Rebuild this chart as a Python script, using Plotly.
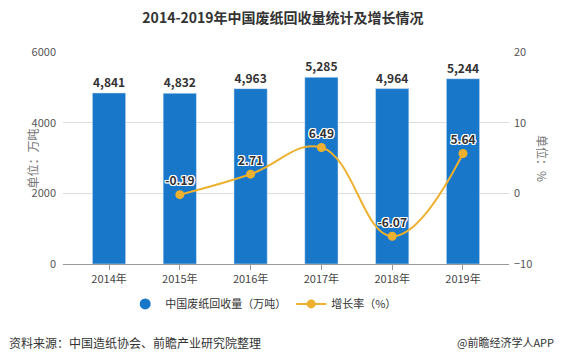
import plotly.graph_objects as go

years = ["2014年", "2015年", "2016年", "2017年", "2018年", "2019年"]
volume = [4841, 4832, 4963, 5285, 4964, 5244]
growth = [None, -0.19, 2.71, 6.49, -6.07, 5.64]
volume_labels = [f"{v:,}" for v in volume]
growth_labels = ["" if g is None else f"{g:.2f}" for g in growth]

BLUE = "#1877C9"
GOLD = "#EDB12F"
FONT = "Noto Sans CJK SC"

fig = go.Figure()
fig.add_trace(go.Bar(
    x=years, y=volume, width=0.47, marker_color=BLUE,
    text=volume_labels, textposition="outside", cliponaxis=False,
    textfont=dict(size=12, color="#333", family=FONT, weight="bold"),
    showlegend=False, name="中国废纸回收量（万吨）",
))
fig.add_trace(go.Scatter(
    x=years[1:], y=growth[1:], yaxis="y2", mode="lines+markers+text",
    line=dict(color=GOLD, width=2, shape="spline", smoothing=1.2),
    marker=dict(color=GOLD, size=9),
    text=growth_labels[1:], textposition="top center", cliponaxis=False,
    textfont=dict(size=12, color="#333", family=FONT, weight="bold",
                  shadow="1px 1px 0 #fff, -1px -1px 0 #fff, 1px -1px 0 #fff, -1px 1px 0 #fff, 0 1px 0 #fff, 0 -1px 0 #fff, 1px 0 0 #fff, -1px 0 0 #fff"),
    showlegend=True, name="增长率（%）", legendrank=2,
))
# legend entry for bars as a circle
fig.add_trace(go.Scatter(
    x=[None], y=[None], mode="markers", marker=dict(color=BLUE, size=11),
    name="中国废纸回收量（万吨）", showlegend=True, legendrank=1,
))

fig.update_layout(
    width=566, height=363,
    margin=dict(l=63, r=57, t=52, b=99),
    paper_bgcolor="white", plot_bgcolor="white",
    font=dict(family=FONT, color="#555", size=11),
    title=dict(text="<b>2014-2019年中国废纸回收量统计及增长情况</b>", x=0.5, xanchor="center",
               y=0.95, yanchor="middle", font=dict(size=14, color="#333", family=FONT)),
    xaxis=dict(type="category", range=[-0.65, 5.65], showgrid=False,
               showline=True, linecolor="#999", linewidth=1,
               ticks="outside", ticklen=5, tickcolor="#999",
               tickfont=dict(size=11, color="#444")),
    yaxis=dict(range=[0, 6000], tickvals=[0, 2000, 4000, 6000], showgrid=True,
               gridcolor="#ddd", zeroline=False, tickfont=dict(size=11, color="#555"),
               ticks="", ticklabelstandoff=6),
    yaxis2=dict(overlaying="y", side="right", range=[-10, 20], tickvals=[-10, 0, 10, 20],
                showgrid=False, zeroline=False, tickfont=dict(size=11, color="#555"),
                ticklabelstandoff=4),
    bargap=0.5,
    legend=dict(orientation="h", x=0.45, xanchor="center", y=-0.12, yanchor="top",
                font=dict(size=11, color="#333"), itemwidth=30, traceorder="normal"),
    annotations=[
        dict(text="单位：万吨", xref="paper", yref="paper", x=-0.092, y=0.5,
             textangle=-90, showarrow=False, font=dict(size=12, color="#777")),
        dict(text="单位：%", xref="paper", yref="paper", x=1.10, y=0.5,
             textangle=90, showarrow=False, font=dict(size=12, color="#777")),
        dict(text="资料来源：中国造纸协会、前瞻产业研究院整理", xref="paper", yref="paper",
             x=-0.125, y=-0.37, xanchor="left", yanchor="middle", showarrow=False,
             font=dict(size=12, color="#333")),
        dict(text="@前瞻经济学人APP", xref="paper", yref="paper",
             x=1.105, y=-0.37, xanchor="right", yanchor="middle", showarrow=False,
             font=dict(size=11, color="#333")),
    ],
)
fig.write_html("out.html", config={"displayModeBar": False},
               post_script="document.body.style.margin='0';")
